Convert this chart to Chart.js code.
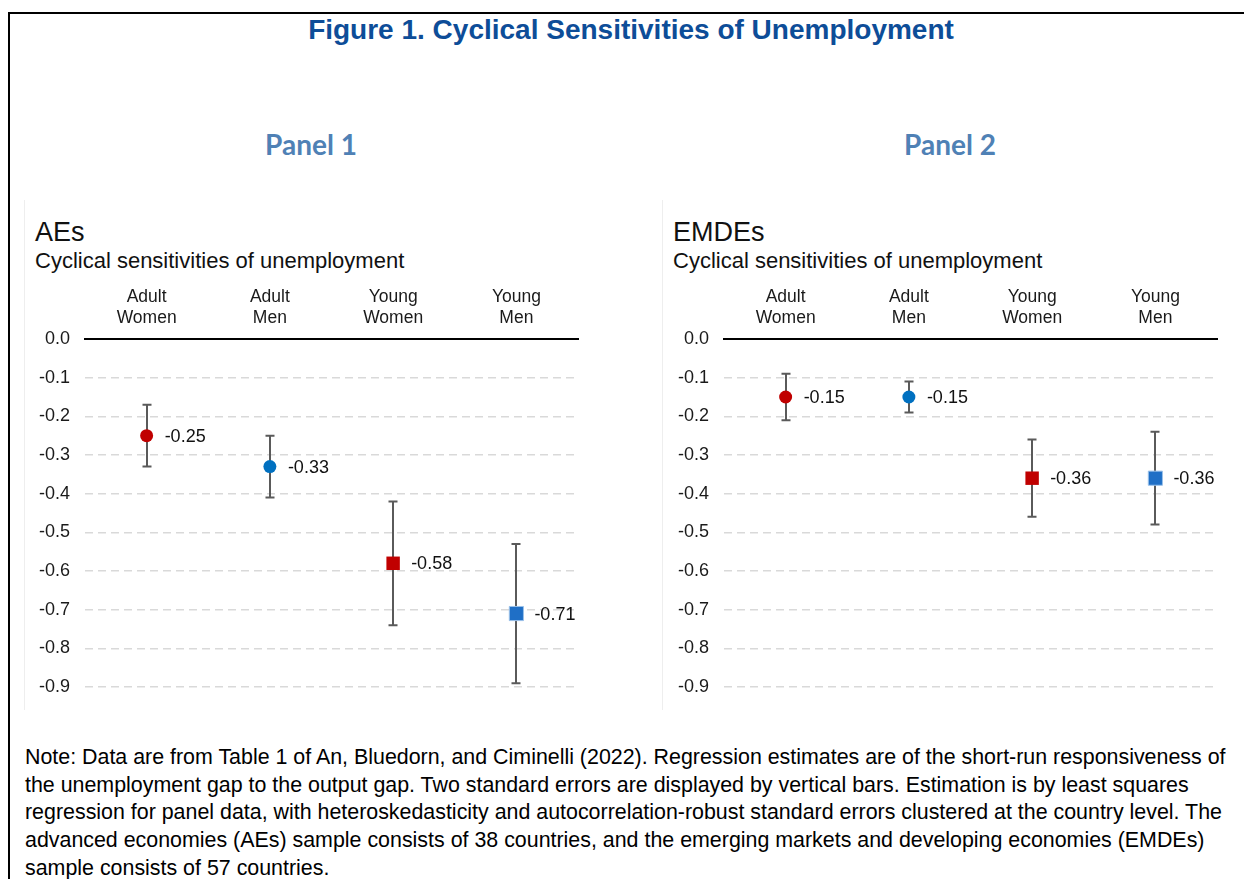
<!DOCTYPE html>
<html>
<head>
<meta charset="utf-8">
<script src="https://cdn.jsdelivr.net/npm/chart.js@4"></script>
<style>
  html, body { margin: 0; padding: 0; background: #fff; }
  body { width: 1244px; height: 879px; overflow: hidden; position: relative; font-family: "Liberation Sans", Arial, sans-serif; }
  .frame { position: absolute; left: 8px; top: 12px; width: 1300px; height: 1000px; border-left: 2px solid #000; border-top: 2px solid #000; }
  .fig-title { position: absolute; left: 131px; top: 16px; width: 1000px; text-align: center; font-weight: bold; font-size: 28px; line-height: 28px; color: #0d4d98; white-space: nowrap; }
  .panel-head { position: absolute; top: 130px; width: 300px; text-align: center; font-family: Lato, "Open Sans", sans-serif; font-weight: bold; font-size: 28px; line-height: 28px; color: #4f81b5; }
  .panel { position: absolute; top: 200px; height: 510px; border-left: 1px solid #eeeeee; }
  .panel canvas { position: absolute; left: 0; top: 80px; }
  .p-title { position: absolute; left: 10px; top: 19px; font-size: 27px; line-height: 27px; color: #111; white-space: nowrap; }
  .p-sub { position: absolute; left: 10px; top: 50px; font-size: 22px; line-height: 22px; color: #111; white-space: nowrap; }
  .note { position: absolute; left: 25px; top: 744px; font-size: 21.4px; line-height: 27.7px; color: #000; white-space: nowrap; }
</style>
</head>
<body>
<div class="frame"></div>
<div class="fig-title">Figure 1. Cyclical Sensitivities of Unemployment</div>
<div class="panel-head" style="left:161px">Panel 1</div>
<div class="panel-head" style="left:800px">Panel 2</div>

<div class="panel" style="left:24px;width:616px">
  <div class="p-title">AEs</div>
  <div class="p-sub">Cyclical sensitivities of unemployment</div>
  <canvas id="chartAE" width="616" height="420"></canvas>
</div>
<div class="panel" style="left:662px;width:582px">
  <div class="p-title">EMDEs</div>
  <div class="p-sub">Cyclical sensitivities of unemployment</div>
  <canvas id="chartEMDE" width="582" height="420"></canvas>
</div>

<div class="note">Note: Data are from Table 1 of An, Bluedorn, and Ciminelli (2022). Regression estimates are of the short-run responsiveness of<br>the unemployment gap to the output gap. Two standard errors are displayed by vertical bars. Estimation is by least squares<br>regression for panel data, with heteroskedasticity and autocorrelation-robust standard errors clustered at the country level. The<br>advanced economies (AEs) sample consists of 38 countries, and the emerging markets and developing economies (EMDEs)<br>sample consists of 57 countries.</div>

<script>
// categories (two-line labels)
const categories = [["Adult", "Women"], ["Adult", "Men"], ["Young", "Women"], ["Young", "Men"]];

// AEs: estimate and +/- two standard errors
const aeEstimates = [-0.25, -0.33, -0.58, -0.71];
const aeUpper = [-0.17, -0.25, -0.42, -0.53];
const aeLower = [-0.33, -0.41, -0.74, -0.89];

// EMDEs
const emdeEstimates = [-0.15, -0.15, -0.36, -0.36];
const emdeUpper = [-0.09, -0.11, -0.26, -0.24];
const emdeLower = [-0.21, -0.19, -0.46, -0.48];

const yTicks = [0, -0.1, -0.2, -0.3, -0.4, -0.5, -0.6, -0.7, -0.8, -0.9];

const FONT = "'Liberation Sans', Arial, sans-serif";
const RED = "#c00000";
const BLUE = "#0070c0";
const BLUE_SQ = "#1f6fc6";

// draw whiskers behind the points
const errorBars = {
  id: "errorBars",
  beforeDatasetsDraw(chart, args, opts) {
    const { ctx, scales: { y } } = chart;
    const meta = chart.getDatasetMeta(0);
    ctx.save();
    ctx.strokeStyle = "#5a5a5a";
    ctx.lineWidth = 2;
    opts.upper.forEach((u, i) => {
      const px = Math.round(meta.data[i].x);
      const top = y.getPixelForValue(u);
      const bot = y.getPixelForValue(opts.lower[i]);
      ctx.beginPath();
      ctx.moveTo(px, top);
      ctx.lineTo(px, bot);
      ctx.moveTo(px - 4.5, top);
      ctx.lineTo(px + 4.5, top);
      ctx.moveTo(px - 4.5, bot);
      ctx.lineTo(px + 4.5, bot);
      ctx.stroke();
    });
    ctx.restore();
  }
};

// value labels right of each point
const valueLabels = {
  id: "valueLabels",
  afterDatasetsDraw(chart) {
    const { ctx } = chart;
    const meta = chart.getDatasetMeta(0);
    const values = chart.data.datasets[0].data;
    ctx.save();
    ctx.font = "18px " + FONT;
    ctx.fillStyle = "#111";
    ctx.textAlign = "left";
    ctx.textBaseline = "middle";
    meta.data.forEach((pt, i) => {
      ctx.fillText(values[i].toFixed(2), pt.x + 18, pt.y + 1);
    });
    ctx.restore();
  }
};

function makePanel(id, estimates, upper, lower, axisWidth, rightPad) {
  const ctx = document.getElementById(id).getContext("2d");
  return new Chart(ctx, {
    type: "line",
    data: {
      labels: categories,
      datasets: [{
        data: estimates,
        showLine: false,
        pointStyle: ["circle", "circle", "rect", "rect"],
        pointRadius: [6.5, 6.5, 9.5, 10],
        pointBackgroundColor: [RED, BLUE, RED, BLUE_SQ],
        pointBorderColor: [RED, BLUE, RED, "#9cc2ea"],
        pointBorderWidth: [0, 0, 0, 1]
      }]
    },
    options: {
      responsive: false,
      animation: false,
      devicePixelRatio: 1,
      layout: { padding: { left: 0, right: rightPad, top: 0, bottom: 0 } },
      plugins: {
        legend: { display: false },
        tooltip: { enabled: false },
        errorBars: { upper: upper, lower: lower }
      },
      scales: {
        x: {
          type: "category",
          position: "top",
          offset: true,
          grid: { display: false, drawTicks: false },
          border: { display: true, color: "#000", width: 2 },
          ticks: {
            autoSkip: false,
            maxRotation: 0,
            padding: 10,
            color: "#1a1a1a",
            font: { family: FONT, size: 17.5, lineHeight: 1.2 }
          },
          afterFit(scale) { scale.height = 59; }
        },
        y: {
          min: -0.9,
          max: 0,
          afterBuildTicks(scale) { scale.ticks = yTicks.map(v => ({ value: v })); },
          grid: {
            drawTicks: false,
            lineWidth: 1.5,
            color: c => (Math.abs(c.tick.value) < 1e-9 ? "rgba(0,0,0,0)" : "#d9d9d9")
          },
          border: { display: false, dash: [8, 5] },
          ticks: {
            padding: 15,
            color: "#1a1a1a",
            font: { family: FONT, size: 18 },
            callback: v => Number(v).toFixed(1)
          },
          afterFit(scale) {
            scale.width = axisWidth;
            scale.paddingTop = 0;
            scale.paddingBottom = 13;
          }
        }
      }
    },
    plugins: [errorBars, valueLabels]
  });
}

makePanel("chartAE", aeEstimates, aeUpper, aeLower, 60, 63);
makePanel("chartEMDE", emdeEstimates, emdeUpper, emdeLower, 61, 28);
</script>
</body>
</html>
